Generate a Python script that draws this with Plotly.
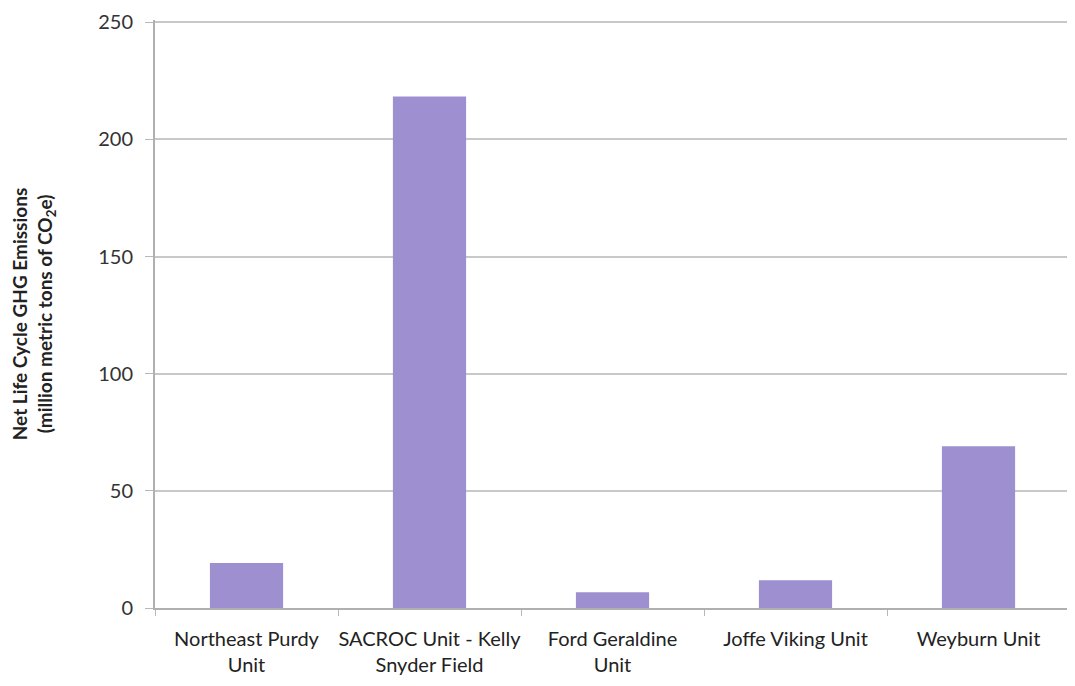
import plotly.graph_objects as go

categories = ["Northeast Purdy<br>Unit", "SACROC Unit - Kelly<br>Snyder Field", "Ford Geraldine<br>Unit",
              "Joffe Viking Unit", "Weyburn Unit"]
values = [19.2, 218.3, 6.7, 11.8, 69.0]
y_ticks = [0, 50, 100, 150, 200, 250]

fig = go.Figure(go.Bar(x=categories, y=values, marker=dict(color="#9d8fd0", line=dict(width=0)),
                       width=0.4))

fig.update_layout(
    width=1062, height=678,
    margin=dict(l=147, r=0, t=12, b=78),
    paper_bgcolor="white", plot_bgcolor="white",
    font=dict(family="Lato, Open Sans, sans-serif", size=18, color="#222"),
    showlegend=False,
)
fig.update_xaxes(showline=True, linecolor="#b0b0b0", linewidth=2, ticks="outside",
                 tickson="boundaries", ticklen=6, tickcolor="#b8b8b8", automargin=False,
                 ticklabelstandoff=12, tickangle=0, ticklabeloverflow="allow",
                 tickfont=dict(size=20, color="#222"))
fig.update_yaxes(range=[0, 251], tickvals=y_ticks, showgrid=True, gridcolor="#c8c8c8", gridwidth=1.5,
                 showline=True, linecolor="#b0b0b0", linewidth=2, ticks="outside", ticklen=8,
                 tickcolor="#b8b8b8", tickfont=dict(size=20, color="#333"), automargin=False,
                 ticklabelstandoff=8, ticklabeloverflow="allow",
                 title=dict(text="<b>Net Life Cycle GHG Emissions<br>(million metric tons of CO<sub>2</sub>e)</b>",
                            font=dict(size=19, color="#222"), standoff=70))

fig.write_html("out.html")
